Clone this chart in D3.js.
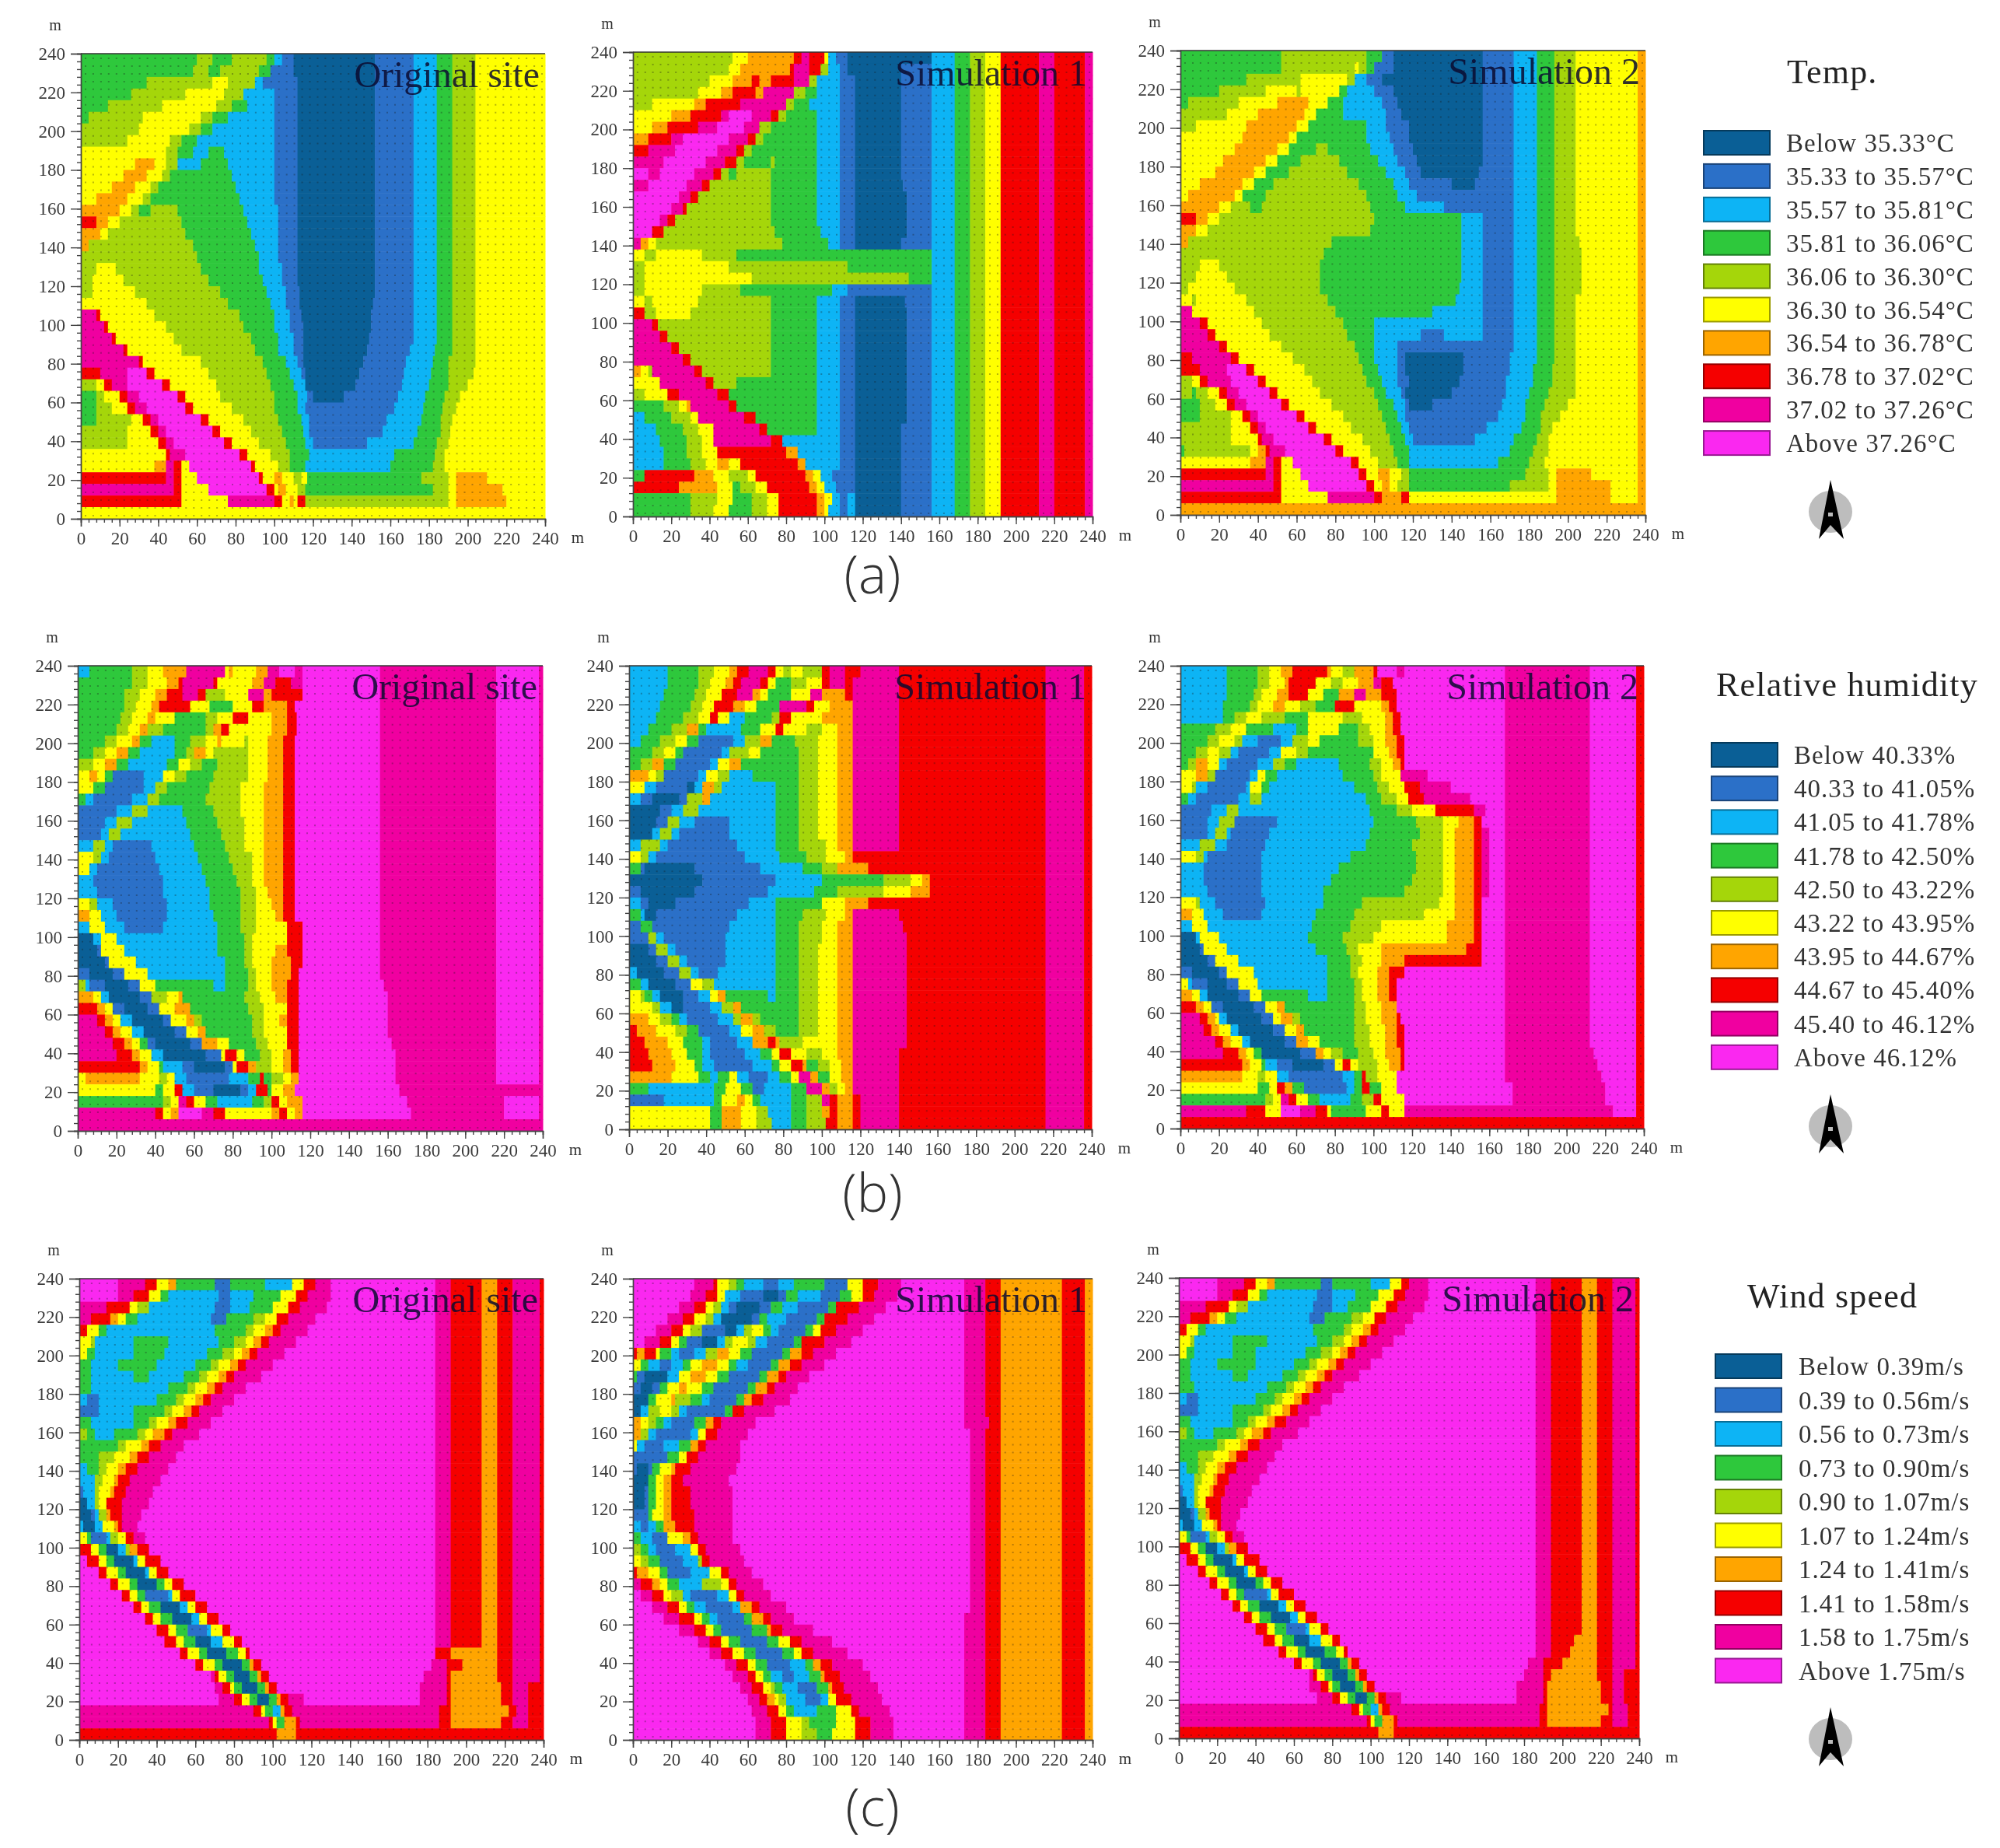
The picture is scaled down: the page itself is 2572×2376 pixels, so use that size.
<!DOCTYPE html>
<html>
<head>
<meta charset="utf-8">
<title>Temperature, humidity and wind simulation maps</title>
<script src="https://cdn.jsdelivr.net/npm/d3@7"></script>
<style>
  html, body { margin: 0; background: #fff; }
  svg { display: block; filter: blur(0.6px); }
</style>
</head>
<body>
<div id="chart"></div>
<script>
// class colours, dark blue (lowest) to magenta (highest)
const classColors = ["#0a5f96", "#2b70c8", "#0db4f5", "#2ec83c", "#a5d60a", "#ffff00", "#ffa500", "#f50000", "#f000a0", "#fa28f0"];

const tempLabels = ["Below 35.33°C", "35.33 to 35.57°C", "35.57 to 35.81°C", "35.81 to 36.06°C", "36.06 to 36.30°C", "36.30 to 36.54°C", "36.54 to 36.78°C", "36.78 to 37.02°C", "37.02 to 37.26°C", "Above 37.26°C"];
const humidLabels = ["Below 40.33%", "40.33 to 41.05%", "41.05 to 41.78%", "41.78 to 42.50%", "42.50 to 43.22%", "43.22 to 43.95%", "43.95 to 44.67%", "44.67 to 45.40%", "45.40 to 46.12%", "Above 46.12%"];
const windLabels = ["Below 0.39m/s", "0.39 to 0.56m/s", "0.56 to 0.73m/s", "0.73 to 0.90m/s", "0.90 to 1.07m/s", "1.07 to 1.24m/s", "1.24 to 1.41m/s", "1.41 to 1.58m/s", "1.58 to 1.75m/s", "Above 1.75m/s"];

const panelNames = ["Original site", "Simulation 1", "Simulation 2"];
const xyTicks = [0, 20, 40, 60, 80, 100, 120, 140, 160, 180, 200, 220, 240];

// each row is one 6 m strip, top of the map first, written as class:endOfRunInMetres
const tempOriginal = [
"3:60 4:68 3:78 4:96 3:100 2:104 1:110 0:152 1:172 2:184 3:192 4:204 5:240",
"3:58 4:66 3:72 4:92 3:98 1:110 0:152 1:172 2:184 3:192 4:204 5:240",
"3:34 4:68 5:76 4:90 2:94 1:112 0:152 1:172 2:184 3:192 4:204 5:240",
"3:26 4:54 5:74 4:84 2:100 1:112 0:152 1:172 2:184 3:192 4:204 5:240",
"3:14 4:42 5:70 4:78 3:86 2:100 1:112 0:152 1:172 2:184 3:192 4:204 5:240",
"3:4 4:32 5:62 4:68 3:76 2:100 1:112 0:152 1:172 2:184 3:192 4:204 5:240",
"4:30 5:56 4:62 3:68 2:100 1:112 0:152 1:172 2:184 3:192 4:204 5:240",
"4:24 5:46 4:52 3:60 2:100 1:112 0:152 1:172 2:184 3:192 4:204 5:240",
"5:44 4:50 3:58 2:66 3:74 2:100 1:112 0:152 1:172 2:184 3:192 4:204 5:240",
"5:28 6:38 5:44 4:50 2:62 3:76 2:100 1:112 0:152 1:172 2:184 3:192 4:204 5:240",
"5:22 6:34 5:42 4:46 3:78 2:100 1:112 0:152 1:172 2:184 3:192 4:204 5:240",
"5:16 6:28 5:36 4:40 3:80 2:100 1:112 0:152 1:172 2:184 3:192 4:204 5:240",
"5:8 6:24 5:32 4:36 3:82 2:100 1:112 0:152 1:172 2:184 3:192 4:204 5:240",
"6:20 5:26 4:30 3:36 4:50 3:84 2:102 1:112 0:152 1:172 2:184 3:192 4:204 5:240",
"7:8 6:14 5:20 4:52 3:86 2:102 1:112 0:152 1:172 2:184 3:192 4:204 5:240",
"6:10 5:14 4:54 3:88 2:102 1:112 0:152 1:172 2:184 3:192 4:204 5:240",
"6:4 4:58 3:90 2:102 1:112 0:152 1:172 2:184 3:192 4:204 5:240",
"4:60 3:92 2:102 1:112 0:152 1:172 2:184 3:192 4:204 5:240",
"4:8 5:18 4:62 3:92 2:104 1:112 0:152 1:172 2:184 3:192 4:204 5:240",
"4:6 5:22 4:66 3:94 2:104 1:112 0:152 1:172 2:184 3:192 4:204 5:240",
"4:6 5:28 4:72 3:96 2:106 1:113 0:152 1:172 2:184 3:192 4:204 5:240",
"5:34 4:76 3:98 2:106 1:113 0:151 1:172 2:184 3:192 4:204 5:240",
"8:8 7:10 5:38 4:82 3:100 2:108 1:114 0:150 1:172 2:184 3:192 4:204 5:240",
"8:12 7:14 5:44 4:84 3:100 2:108 1:115 0:150 1:172 2:184 3:192 4:204 5:240",
"8:16 7:18 5:48 4:88 3:102 2:110 1:115 0:149 1:172 2:184 3:192 4:204 5:240",
"8:22 7:24 5:52 4:90 3:102 2:110 1:115 0:148 1:170 2:183 3:192 4:204 5:240",
"8:30 7:32 5:62 4:94 3:106 2:112 1:115 0:146 1:168 2:182 3:190 4:204 5:240",
"7:10 8:24 9:34 7:38 5:66 4:96 3:108 2:114 1:116 0:144 1:167 2:181 3:190 4:203 5:240",
"4:8 5:12 7:16 8:24 9:42 7:46 5:70 4:98 3:110 2:116 0:142 1:166 2:180 3:190 4:200 5:240",
"3:8 4:12 5:20 7:24 8:30 9:50 7:54 5:72 4:100 3:112 2:117 1:120 0:136 1:164 2:178 3:188 4:196 5:240",
"3:8 4:16 5:24 7:28 8:34 9:54 7:58 5:78 4:100 3:112 2:116 1:162 2:177 3:187 4:194 5:240",
"3:8 4:26 5:32 7:36 8:40 9:62 7:66 5:84 4:102 3:114 2:118 1:158 2:176 3:186 4:192 5:240",
"4:24 5:36 7:40 8:44 9:68 7:72 5:88 4:104 3:115 2:118 1:156 2:174 3:186 4:191 5:240",
"4:24 5:40 7:44 8:48 9:74 7:78 5:92 4:106 3:116 2:120 1:148 2:172 3:184 4:190 5:240",
"5:44 7:46 8:54 9:82 7:86 5:98 4:108 3:118 2:162 3:183 4:188 5:240",
"5:38 6:44 8:48 7:52 5:56 9:88 7:90 5:102 4:108 3:116 2:160 3:182 4:188 5:240",
"7:44 8:48 7:52 5:60 9:92 7:94 5:100 6:104 5:110 4:114 5:117 3:176 4:190 5:194 6:210 5:240",
"8:48 7:52 5:66 9:96 7:100 5:102 6:106 5:112 4:116 3:182 4:190 5:194 6:218 5:240",
"7:52 5:76 8:100 7:104 5:108 6:110 5:112 7:116 4:190 5:194 6:220 5:240",
"5:240"
];

const tempSim1 = [
"4:52 5:60 6:84 7:88 8:92 7:100 5:102 2:106 1:112 0:156 2:168 3:176 4:184 5:192 7:212 8:220 7:236 8:240",
"4:50 5:56 6:82 7:84 8:92 7:98 4:102 2:108 1:112 0:140 1:156 2:168 3:176 4:184 5:192 7:212 8:220 7:236 8:240",
"4:40 5:52 6:62 7:66 6:72 7:84 8:92 4:96 2:108 1:116 0:140 1:156 2:168 3:176 4:184 5:192 7:212 8:220 7:236 8:240",
"4:34 5:46 6:52 7:64 6:68 8:84 4:90 3:96 2:108 1:116 0:140 1:156 2:168 3:176 4:184 5:192 7:212 8:220 7:236 8:240",
"4:10 5:32 6:38 7:56 8:80 4:84 3:92 2:108 1:116 0:140 1:156 2:168 3:176 4:184 5:192 7:212 8:220 7:236 8:240",
"5:20 6:30 7:46 8:50 9:62 8:72 7:76 4:80 3:96 2:108 1:116 0:140 1:156 2:168 3:176 4:184 5:192 7:212 8:220 7:236 8:240",
"5:10 6:18 7:34 8:44 9:58 8:66 4:72 3:96 2:108 1:116 0:140 1:156 2:168 3:176 4:184 5:192 7:212 8:220 7:236 8:240",
"6:8 7:20 8:26 9:50 8:60 7:64 4:68 3:96 2:108 1:116 0:140 1:156 2:168 3:176 4:184 5:192 7:212 8:220 7:236 8:240",
"7:8 8:22 9:44 8:54 7:58 4:62 3:96 2:108 1:116 0:140 1:156 2:168 3:176 4:184 5:192 7:212 8:220 7:236 8:240",
"8:16 9:38 8:48 7:54 4:58 3:72 4:74 3:96 2:108 1:116 0:140 1:156 2:168 3:176 4:184 5:192 7:212 8:220 7:236 8:240",
"9:8 8:14 9:32 8:42 7:46 4:50 3:54 4:72 3:96 2:108 1:116 0:140 1:156 2:168 3:176 4:184 5:192 7:212 8:220 7:236 8:240",
"8:8 9:28 8:36 7:40 4:72 3:96 2:108 1:116 0:141 1:156 2:168 3:176 4:184 5:192 7:212 8:220 7:236 8:240",
"9:24 8:30 7:34 4:72 3:96 2:108 1:116 0:143 1:156 2:168 3:176 4:184 5:192 7:212 8:220 7:236 8:240",
"9:20 8:26 7:28 4:72 3:96 2:108 1:116 0:143 1:156 2:168 3:176 4:184 5:192 7:212 8:220 7:236 8:240",
"9:14 8:18 7:22 4:72 3:96 2:108 1:116 0:143 1:156 2:168 3:176 4:184 5:192 7:212 8:220 7:236 8:240",
"9:10 7:16 4:74 3:98 2:108 1:116 0:143 1:156 2:168 3:176 4:184 5:192 7:212 8:220 7:236 8:240",
"8:4 6:8 5:12 4:78 3:102 2:108 1:116 0:140 1:156 2:168 3:176 4:184 5:192 7:212 8:220 7:236 8:240",
"5:6 4:12 5:36 4:54 3:156 2:168 3:176 4:184 5:192 7:212 8:220 7:236 8:240",
"4:6 5:50 4:112 3:156 2:168 3:176 4:184 5:192 7:212 8:220 7:236 8:240",
"4:6 5:62 4:144 3:156 2:168 3:176 4:184 5:192 7:212 8:220 7:236 8:240",
"4:6 5:36 4:56 3:104 2:112 1:156 2:168 3:176 4:184 5:192 7:212 8:220 7:236 8:240",
"5:6 4:10 5:34 4:72 3:96 2:108 1:116 0:142 1:156 2:168 3:176 4:184 5:192 7:212 8:220 7:236 8:240",
"7:6 4:12 5:30 4:72 3:96 2:108 1:116 0:143 1:156 2:168 3:176 4:184 5:192 7:212 8:220 7:236 8:240",
"8:10 7:13 4:72 3:96 2:108 1:116 0:143 1:156 2:168 3:176 4:184 5:192 7:212 8:220 7:236 8:240",
"8:14 7:18 4:72 3:96 2:108 1:116 0:143 1:156 2:168 3:176 4:184 5:192 7:212 8:220 7:236 8:240",
"8:20 7:24 4:72 3:96 2:108 1:116 0:143 1:156 2:168 3:176 4:184 5:192 7:212 8:220 7:236 8:240",
"8:26 7:30 4:72 3:96 2:108 1:116 0:143 1:156 2:168 3:176 4:184 5:192 7:212 8:220 7:236 8:240",
"6:4 5:8 4:10 8:32 7:36 4:72 3:96 2:108 1:116 0:143 1:156 2:168 3:176 4:184 5:192 7:212 8:220 7:236 8:240",
"5:14 8:38 7:42 4:54 3:96 2:108 1:116 0:143 1:156 2:168 3:176 4:184 5:192 7:212 8:220 7:236 8:240",
"4:6 5:18 7:24 8:44 7:50 3:96 2:108 1:116 0:143 1:156 2:168 3:176 4:184 5:192 7:212 8:220 7:236 8:240",
"3:16 4:24 5:28 6:30 8:50 7:54 3:96 2:108 1:116 0:143 1:156 2:168 3:176 4:184 5:192 7:212 8:220 7:236 8:240",
"2:6 3:20 4:30 5:34 8:58 7:64 3:96 2:108 1:116 0:143 1:156 2:168 3:176 4:184 5:192 7:212 8:220 7:236 8:240",
"2:12 3:26 4:34 5:42 8:66 7:70 3:96 2:108 1:116 0:140 1:156 2:168 3:176 4:184 5:192 7:212 8:220 7:236 8:240",
"2:14 3:28 4:36 5:42 8:72 7:78 2:108 1:116 0:140 1:156 2:168 3:176 4:184 5:192 7:212 8:220 7:236 8:240",
"2:16 3:28 4:36 5:44 7:80 6:86 2:108 1:116 0:140 1:156 2:168 3:176 4:184 5:192 7:212 8:220 7:236 8:240",
"2:16 3:30 4:38 5:44 6:50 5:56 7:86 6:90 2:108 1:116 0:140 1:156 2:168 3:176 4:184 5:192 7:212 8:220 7:236 8:240",
"3:6 7:32 6:42 5:50 4:60 5:64 7:90 6:94 5:98 2:104 1:116 0:140 1:156 2:168 3:176 4:184 5:192 7:212 8:220 7:236 8:240",
"7:24 6:44 5:52 3:56 4:64 5:70 7:92 6:96 5:100 2:106 1:116 0:140 1:156 2:168 3:176 4:184 5:192 7:212 8:220 7:236 8:240",
"3:30 4:44 5:52 3:62 4:70 5:76 7:96 6:100 5:104 2:108 1:112 2:116 0:140 1:156 2:168 3:176 4:184 5:192 7:212 8:220 7:236 8:240",
"3:30 4:42 5:50 3:62 4:70 5:76 7:96 6:100 5:102 2:108 1:112 2:116 0:140 1:156 2:168 3:176 4:184 5:192 7:212 8:220 7:236 8:240"
];

const tempSim2 = [
"3:52 4:96 3:104 1:110 0:156 1:172 2:184 3:193 4:204 5:236 6:240",
"3:52 4:90 5:92 4:96 3:100 1:110 0:156 1:172 2:184 3:193 4:204 5:236 6:240",
"3:34 4:62 5:86 4:90 2:96 1:104 0:156 1:172 2:184 3:193 4:204 5:236 6:240",
"3:20 4:44 5:60 4:62 5:82 3:86 2:100 1:110 0:156 1:172 2:184 3:193 4:204 5:236 6:240",
"3:4 4:30 5:50 6:66 5:76 3:84 2:104 1:112 0:156 1:172 2:184 3:193 4:204 5:236 6:240",
"4:24 5:40 6:64 5:70 3:84 2:106 1:114 0:156 1:172 2:184 3:193 4:204 5:236 6:240",
"4:8 5:34 6:60 5:66 3:96 2:106 1:118 0:156 1:172 2:184 3:193 4:204 5:236 6:240",
"5:32 6:56 5:60 3:96 2:108 1:118 0:156 1:172 2:184 3:193 4:204 5:236 6:240",
"5:28 6:50 5:56 3:70 4:76 3:98 2:110 1:120 0:156 1:172 2:184 3:193 4:204 5:236 6:240",
"5:22 6:44 5:50 3:62 4:82 3:102 2:112 1:122 0:156 1:172 2:184 3:193 4:204 5:236 6:240",
"5:18 6:38 5:44 3:56 4:86 3:106 2:116 1:124 0:154 1:172 2:184 3:193 4:204 5:236 6:240",
"5:10 6:32 5:38 3:48 4:92 3:110 2:118 1:140 0:152 1:172 2:184 3:193 4:204 5:236 6:240",
"5:4 6:28 5:32 3:44 4:96 3:112 2:122 1:172 2:184 3:193 4:204 5:236 6:240",
"6:20 5:26 4:36 3:42 4:98 3:116 2:136 1:172 2:184 3:193 4:204 5:236 6:240",
"7:8 6:14 5:20 4:100 3:145 2:156 1:172 2:184 3:193 4:204 5:236 6:240",
"6:8 5:14 4:98 3:145 2:156 1:172 2:184 3:193 4:204 5:236 6:240",
"6:4 4:78 3:145 2:156 1:172 2:184 3:193 4:206 5:236 6:240",
"4:74 3:145 2:156 1:172 2:184 3:193 4:207 5:236 6:240",
"4:10 5:20 4:72 3:145 2:156 1:172 2:184 3:193 4:207 5:236 6:240",
"4:8 5:24 4:72 3:145 2:156 1:172 2:184 3:193 4:207 5:236 6:240",
"4:4 5:28 4:72 3:144 2:156 1:172 2:184 3:193 4:207 5:236 6:240",
"5:6 4:8 5:34 4:76 3:142 2:156 1:172 2:184 3:193 4:204 5:236 6:240",
"8:6 5:38 4:80 3:130 2:156 1:172 2:184 3:193 4:204 5:236 6:240",
"8:10 7:14 5:42 4:84 3:100 2:156 1:172 2:184 3:193 4:204 5:236 6:240",
"8:14 7:18 5:46 4:86 3:100 2:124 1:136 2:156 1:172 2:184 3:193 4:204 5:236 6:240",
"8:20 7:24 5:52 4:90 3:100 2:112 1:172 2:184 3:193 4:204 5:236 6:240",
"7:6 8:26 7:30 5:58 4:92 3:100 2:112 1:116 0:146 1:170 2:184 3:193 4:204 5:236 6:240",
"7:10 8:24 9:34 7:38 5:64 4:94 3:102 2:112 1:116 0:146 1:170 2:182 3:192 4:204 5:236 6:240",
"4:6 5:10 7:14 8:26 9:40 7:44 5:68 4:96 3:104 2:112 1:118 0:144 1:168 2:182 3:192 4:204 5:236 6:240",
"4:6 3:8 4:14 5:20 7:24 8:30 9:46 7:50 5:72 4:100 3:106 2:114 1:116 0:140 1:168 2:180 3:190 4:204 5:236 6:240",
"3:10 4:18 5:24 7:28 8:34 9:52 7:56 5:78 4:102 3:110 2:116 1:118 0:130 1:166 2:178 3:188 4:200 5:236 6:240",
"3:10 4:26 5:32 7:36 8:40 9:60 7:64 5:84 4:104 3:112 2:116 1:164 2:178 3:186 4:196 5:236 6:240",
"4:26 5:36 7:40 8:44 9:66 7:70 5:88 4:106 3:114 2:118 1:158 2:176 3:186 4:192 5:236 6:240",
"4:26 5:40 7:42 8:48 9:74 7:78 5:94 4:108 3:116 2:120 1:152 2:172 3:184 4:190 5:236 6:240",
"3:2 4:36 5:40 6:44 7:46 8:54 9:80 7:84 5:98 4:110 3:118 2:170 3:182 4:190 5:236 6:240",
"5:36 6:44 8:48 7:52 5:58 9:88 7:92 5:102 4:112 3:118 2:164 3:180 4:188 5:236 6:240",
"7:44 8:48 7:52 5:62 9:92 7:96 5:102 6:108 5:114 4:118 3:178 4:190 5:194 6:212 5:236 6:240",
"8:48 7:52 5:66 9:96 7:100 5:104 6:108 5:112 4:118 3:170 4:190 5:194 6:222 5:236 6:240",
"7:52 5:76 8:100 7:104 6:114 7:118 5:194 6:222 5:236 6:240",
"6:240"
];

const humidOriginal = [
"2:6 3:28 4:36 5:44 6:56 8:76 5:78 6:80 5:92 6:98 8:104 9:112 8:116 9:156 8:216 9:238 8:240",
"3:28 4:36 5:46 6:52 7:54 8:70 7:72 5:90 6:96 8:102 7:110 8:116 9:156 8:216 9:238 8:240",
"3:24 4:32 5:40 6:46 7:54 8:62 7:66 4:76 5:88 8:96 6:100 7:116 9:156 8:216 9:238 8:240",
"3:24 4:30 5:38 6:42 7:58 5:68 3:80 5:90 7:96 6:108 7:112 9:156 8:216 9:238 8:240",
"3:22 4:28 5:36 6:40 5:50 3:66 4:72 5:80 7:88 5:100 6:108 7:113 9:156 8:216 9:238 8:240",
"3:20 4:26 5:32 6:36 4:44 3:66 4:70 6:74 7:78 5:100 6:108 7:113 9:156 8:216 9:238 8:240",
"3:14 4:20 5:28 6:32 3:38 2:50 3:58 4:66 5:72 6:74 5:86 4:88 5:98 6:106 7:112 9:156 8:216 9:238 8:240",
"3:8 4:14 5:20 6:26 3:32 2:50 3:56 4:60 6:66 5:70 4:88 5:98 6:106 7:112 9:156 8:216 9:238 8:240",
"4:8 5:14 6:20 3:26 2:46 3:52 5:58 4:64 3:72 4:88 5:98 6:106 7:112 9:156 8:216 9:238 8:240",
"5:6 6:10 5:14 3:18 1:34 2:44 5:50 4:56 3:70 4:88 5:98 6:106 7:112 9:156 8:216 9:238 8:240",
"5:8 3:14 1:34 2:40 4:46 3:68 4:84 5:96 6:106 7:112 9:156 8:216 9:238 8:240",
"3:4 2:8 1:28 2:36 4:42 3:66 4:84 5:96 6:106 7:112 9:156 8:216 9:238 8:240",
"1:20 2:28 4:36 2:54 3:70 4:84 5:96 6:106 7:112 9:156 8:216 9:238 8:240",
"1:14 2:20 4:28 2:56 3:72 4:86 5:96 6:106 7:112 9:156 8:216 9:238 8:240",
"1:12 2:16 4:22 2:58 3:74 4:86 5:96 6:106 7:112 9:156 8:216 9:238 8:240",
"2:8 4:14 2:18 1:38 2:60 3:76 4:86 5:96 6:106 7:112 9:156 8:216 9:238 8:240",
"5:8 4:12 2:16 1:40 2:62 3:78 4:90 5:96 6:106 7:112 9:156 8:216 9:238 8:240",
"5:6 2:10 1:42 2:64 3:80 4:90 5:96 6:106 7:112 9:156 8:216 9:238 8:240",
"2:8 1:44 2:66 3:82 4:90 5:96 6:106 7:112 9:156 8:216 9:238 8:240",
"2:10 1:44 2:68 3:84 4:92 5:98 6:106 7:112 9:156 8:216 9:238 8:240",
"5:6 4:10 2:18 1:46 2:68 3:84 4:92 5:100 6:106 7:112 9:156 8:216 9:238 8:240",
"6:6 5:12 2:20 1:46 2:70 3:84 4:92 5:102 6:106 7:112 9:156 8:216 9:238 8:240",
"2:6 5:14 2:24 1:44 2:72 3:84 4:92 5:108 7:116 9:156 8:216 9:238 8:240",
"0:8 2:12 5:20 2:72 3:86 4:90 5:108 7:116 9:156 8:216 9:238 8:240",
"0:10 1:12 5:24 2:72 3:86 4:90 5:102 6:108 7:116 9:156 8:216 9:238 8:240",
"0:14 1:16 5:30 2:76 3:86 4:90 5:100 6:110 7:116 9:156 8:216 9:238 8:240",
"1:6 0:18 1:24 5:36 2:76 3:88 4:92 5:100 6:110 7:114 9:156 8:216 9:238 8:240",
"4:4 2:6 1:14 0:26 1:32 5:40 3:70 2:76 3:88 4:92 5:100 6:108 7:114 9:158 8:216 9:238 8:240",
"6:8 5:12 2:16 0:32 1:38 4:46 5:52 6:54 3:86 4:94 5:102 6:108 7:114 9:160 8:216 9:238 8:240",
"7:10 6:14 5:18 1:24 0:36 1:42 5:50 6:58 3:88 4:96 5:108 7:114 9:160 8:216 9:238 8:240",
"8:10 7:14 6:18 5:22 2:28 0:44 1:48 5:56 6:60 4:64 3:90 4:96 5:104 6:108 7:114 9:160 8:216 9:238 8:240",
"8:14 7:18 6:22 5:28 2:34 0:50 1:56 5:62 6:66 3:90 4:96 5:108 7:114 9:160 8:216 9:238 8:240",
"8:18 7:24 6:28 5:32 3:36 1:40 0:58 1:64 6:72 5:78 3:92 4:98 5:108 7:114 9:162 8:216 9:238 8:240",
"8:20 7:28 6:32 5:38 2:44 0:66 1:74 5:76 7:82 5:86 3:94 4:100 5:106 6:110 7:114 9:164 8:216 9:238 8:240",
"7:32 6:36 5:42 3:44 2:54 1:60 0:76 1:80 5:82 7:88 6:92 4:100 5:106 6:110 7:114 9:164 8:216 9:238 8:240",
"5:4 6:32 5:42 4:46 5:50 2:56 1:78 2:88 3:94 7:96 3:100 4:106 5:110 6:114 9:164 8:216 9:238 8:240",
"5:40 3:44 5:50 7:54 2:60 1:70 0:84 1:88 2:92 7:98 3:100 5:106 6:112 9:166 8:240",
"3:44 4:48 5:52 8:56 7:60 5:66 3:72 2:90 3:96 4:100 7:104 5:108 6:116 9:170 8:220 9:238 8:240",
"8:40 7:44 5:48 6:52 9:64 8:70 7:76 5:100 6:104 7:108 5:112 6:116 9:172 8:220 9:238 8:240",
"8:240"
];

const humidSim1 = [
"2:20 3:36 4:44 5:52 6:56 7:62 8:72 7:76 5:80 4:84 5:90 4:100 7:104 8:112 7:120 8:140 7:216 8:236 7:240",
"2:20 3:36 4:42 5:50 6:54 7:58 8:68 7:72 5:76 3:84 4:92 5:100 7:104 8:112 7:116 8:140 7:216 8:236 7:240",
"2:18 3:34 4:40 5:48 7:56 8:64 6:68 5:72 3:84 5:94 8:100 6:112 7:116 8:140 7:216 8:236 7:240",
"2:16 3:32 4:38 5:44 7:54 6:60 5:66 3:78 8:92 7:96 5:104 6:116 8:140 7:216 8:236 7:240",
"2:14 3:28 4:36 5:42 7:46 5:52 2:60 3:74 4:78 7:84 5:100 6:116 8:140 7:216 8:236 7:240",
"2:10 3:22 4:30 6:36 3:40 2:58 3:68 5:76 7:80 5:92 4:100 5:108 6:116 8:140 7:216 8:236 7:240",
"2:6 3:16 4:24 5:30 3:36 1:54 2:60 4:68 6:74 3:86 4:98 5:108 6:116 8:140 7:216 8:236 7:240",
"3:12 4:18 5:24 3:28 1:48 2:52 4:62 5:68 3:88 4:98 5:108 6:116 8:140 7:216 8:236 7:240",
"3:6 4:12 6:18 3:24 1:42 2:46 5:52 6:58 3:88 4:98 5:108 6:116 8:140 7:216 8:236 7:240",
"6:10 5:14 4:18 1:36 2:40 5:46 4:52 2:64 3:88 4:98 5:108 6:116 8:140 7:216 8:236 7:240",
"5:8 2:14 1:30 0:34 2:38 6:44 4:48 2:76 3:88 4:98 5:108 6:116 8:140 7:216 8:236 7:240",
"2:6 1:12 0:26 1:30 4:38 6:42 2:76 3:88 4:98 5:108 6:116 8:140 7:216 8:236 7:240",
"0:16 1:22 2:28 4:36 2:76 3:88 4:98 5:108 6:116 8:140 7:216 8:236 7:240",
"0:14 1:20 4:26 2:34 1:52 2:76 3:88 4:98 5:108 6:116 8:140 7:216 8:236 7:240",
"0:12 2:16 4:22 2:26 1:52 2:76 3:88 4:98 5:108 6:116 8:140 7:216 8:236 7:240",
"2:6 4:16 2:20 1:56 2:76 3:88 4:102 5:108 6:116 8:140 7:216 8:236 7:240",
"5:6 4:10 2:14 1:60 2:78 3:92 4:102 5:112 6:116 7:216 8:236 7:240",
"3:6 1:8 0:34 1:68 2:90 3:100 4:108 6:124 7:216 8:236 7:240",
"0:38 1:76 2:100 3:132 4:146 5:152 6:156 7:216 8:236 7:240",
"1:6 0:34 1:72 2:96 3:108 4:132 5:146 6:156 7:216 8:236 7:240",
"2:6 1:10 0:24 1:62 2:76 3:100 5:112 6:124 7:216 8:236 7:240",
"3:6 2:8 0:14 1:56 2:76 3:90 4:102 5:112 6:116 8:140 7:216 8:236 7:240",
"1:6 3:12 1:52 2:76 3:88 4:100 5:108 6:116 8:142 7:216 8:236 7:240",
"1:10 4:14 2:18 1:50 2:76 3:88 4:100 5:108 6:116 8:144 7:216 8:236 7:240",
"0:10 1:14 4:20 2:24 1:50 2:76 3:88 4:98 5:108 6:116 8:144 7:216 8:236 7:240",
"0:14 1:20 4:26 2:30 1:50 2:76 3:88 4:98 5:108 6:116 8:144 7:216 8:236 7:240",
"2:4 0:18 1:26 4:32 2:36 1:46 2:76 3:88 4:98 5:108 6:116 8:144 7:216 8:236 7:240",
"3:6 2:10 0:24 1:32 5:38 4:44 2:76 3:88 4:98 5:108 6:116 8:144 7:216 8:236 7:240",
"5:6 4:8 3:12 2:16 0:28 1:36 2:42 5:46 6:50 3:72 2:76 3:88 4:98 5:108 6:116 8:144 7:216 8:236 7:240",
"5:12 4:16 2:22 0:28 1:42 2:48 4:54 6:58 3:88 4:98 5:108 6:116 8:144 7:216 8:236 7:240",
"6:10 5:16 4:22 3:26 2:30 1:46 2:54 4:58 6:64 4:68 3:88 4:98 5:108 6:116 8:144 7:216 8:236 7:240",
"7:4 6:14 5:24 4:30 3:36 1:52 2:58 5:64 6:70 4:76 3:88 4:98 5:108 6:116 8:144 7:216 8:236 7:240",
"7:8 6:20 5:28 3:38 2:42 1:56 2:64 6:72 7:76 6:78 4:90 5:108 6:116 8:144 7:216 8:236 7:240",
"7:10 6:22 5:30 3:38 2:42 1:60 2:68 3:74 5:78 7:84 5:92 4:100 5:108 6:116 8:140 7:216 8:236 7:240",
"7:12 6:24 5:34 3:38 2:44 1:64 2:74 3:78 5:84 7:90 6:92 3:98 4:104 5:110 6:116 8:140 7:216 8:236 7:240",
"6:22 5:36 3:42 2:46 3:52 5:56 2:62 1:72 2:78 3:84 5:88 8:94 6:98 3:104 5:110 6:116 8:140 7:216 8:236 7:240",
"3:10 2:44 3:50 5:58 3:64 1:70 2:84 3:92 8:100 6:104 4:108 5:112 6:116 8:140 7:216 8:236 7:240",
"1:18 2:44 3:48 5:56 6:60 5:64 3:68 2:84 3:92 4:100 8:104 7:108 6:116 7:120 8:140 7:216 8:236 7:240",
"5:42 3:48 6:58 5:66 4:72 2:84 3:92 4:100 6:104 7:108 6:116 7:120 8:140 7:216 8:236 7:240",
"5:42 3:48 6:58 5:66 4:74 2:84 3:92 4:102 7:108 6:116 7:120 8:140 7:216 8:236 7:240"
];

const humidSim2 = [
"2:24 3:40 4:46 5:52 6:58 7:76 6:78 5:84 4:90 6:100 7:102 9:112 8:116 9:168 8:212 9:236 7:240",
"2:24 3:40 4:46 5:54 6:56 7:70 5:78 4:84 5:92 6:100 8:104 7:110 9:168 8:212 9:236 7:240",
"2:24 3:38 4:42 5:50 6:56 7:66 5:74 3:82 6:90 8:96 6:104 7:112 9:168 8:212 9:236 7:240",
"2:22 3:36 4:40 5:48 6:54 5:62 4:70 3:80 7:90 5:104 6:108 7:112 9:168 8:212 9:236 7:240",
"2:22 3:28 4:34 5:42 4:54 3:66 5:84 4:94 5:106 6:110 7:114 9:168 8:212 9:236 7:240",
"3:18 4:26 5:34 3:48 2:60 3:66 5:82 3:92 4:98 5:106 6:110 7:114 9:168 8:212 9:236 7:240",
"3:14 4:20 5:28 4:32 2:40 1:52 2:58 4:66 5:72 3:92 4:100 5:106 6:112 7:116 9:168 8:212 9:236 7:240",
"3:8 4:14 5:20 4:26 2:30 1:46 2:52 5:60 4:66 3:100 5:108 6:112 7:116 9:168 8:212 9:236 7:240",
"3:4 4:8 6:14 5:20 2:24 1:40 2:48 4:54 3:60 2:82 3:98 4:104 5:110 6:114 7:116 9:168 8:212 9:236 7:240",
"5:8 6:14 4:18 1:36 2:40 5:44 3:50 2:84 3:100 4:104 5:114 8:128 9:168 8:212 9:236 7:240",
"5:6 4:8 2:14 1:34 2:36 5:42 3:46 2:90 3:102 4:108 5:116 7:124 8:140 9:168 8:212 9:236 7:240",
"3:4 2:8 1:30 2:36 4:42 2:96 3:104 4:112 5:118 7:126 8:150 9:168 8:212 9:236 7:240",
"1:16 2:24 4:30 2:98 3:112 4:120 5:132 7:152 8:158 9:168 8:212 9:236 7:240",
"1:14 2:20 4:28 1:50 2:100 3:122 4:136 5:144 6:152 7:156 9:168 8:212 9:236 7:240",
"1:14 2:18 4:24 2:26 1:46 2:98 3:124 4:136 5:142 6:152 7:156 8:160 9:168 8:212 9:236 7:240",
"2:10 4:18 2:24 1:44 2:96 3:120 4:136 5:142 6:152 7:156 8:160 9:168 8:212 9:236 7:240",
"5:8 4:12 2:14 1:42 2:88 3:122 4:136 5:142 6:152 7:156 8:160 9:168 8:212 9:236 7:240",
"2:12 1:42 2:82 3:122 4:136 5:142 6:152 7:156 8:160 9:168 8:212 9:236 7:240",
"2:12 1:42 2:78 3:120 4:136 5:142 6:152 7:156 8:160 9:168 8:212 9:236 7:240",
"2:14 1:42 2:74 3:116 4:136 5:142 6:152 7:156 8:160 9:168 8:212 9:236 7:240",
"5:8 4:10 2:18 1:44 2:74 3:94 4:134 5:142 6:152 7:156 9:168 8:212 9:236 7:240",
"6:6 5:12 2:22 1:42 2:70 3:90 4:126 5:142 6:152 7:156 9:168 8:212 9:236 7:240",
"2:6 5:14 2:68 3:88 4:104 5:138 6:152 7:156 9:168 8:212 9:236 7:240",
"0:8 2:10 5:20 2:66 3:84 4:100 5:138 6:152 7:156 9:168 8:212 9:236 7:240",
"0:10 1:12 5:24 2:70 3:86 4:92 5:104 6:148 7:156 9:168 8:212 9:236 7:240",
"0:14 1:18 5:30 2:76 3:88 4:94 5:104 6:116 7:156 9:168 8:212 9:236 7:240",
"1:6 0:20 1:24 5:38 2:76 3:88 4:92 5:102 6:108 7:116 9:168 8:212 9:236 7:240",
"5:4 2:6 1:14 0:24 1:30 5:40 2:76 3:90 4:94 5:102 6:108 7:112 9:168 8:212 9:236 7:240",
"6:6 5:10 2:14 0:30 1:36 5:42 3:66 2:76 3:90 4:94 5:102 6:108 7:112 9:168 8:212 9:236 7:240",
"7:8 6:12 5:16 1:22 0:38 1:44 5:50 6:54 3:90 4:96 5:104 6:112 9:168 8:212 9:236 7:240",
"8:10 7:14 6:18 5:20 2:24 0:42 1:48 5:52 6:58 4:62 3:90 4:96 5:104 6:112 7:114 9:168 8:212 9:236 7:240",
"8:12 7:16 6:20 5:26 2:30 0:48 1:54 5:60 6:64 3:90 4:98 5:106 6:112 7:116 9:168 8:212 9:236 7:240",
"8:18 7:22 6:26 5:32 2:36 0:54 1:60 6:66 5:72 3:90 4:98 5:106 6:112 7:116 9:168 8:212 9:236 7:240",
"8:22 7:30 6:34 5:38 3:42 0:62 1:70 6:74 5:78 4:84 3:92 4:100 5:106 6:114 7:116 9:168 8:214 9:236 7:240",
"7:32 6:36 5:42 3:44 2:50 1:58 0:74 1:80 5:84 7:88 5:92 4:102 5:108 6:114 7:116 9:168 8:216 9:236 7:240",
"6:32 5:40 4:44 5:50 2:56 1:84 2:90 3:94 7:96 4:102 5:112 9:168 8:218 9:236 7:240",
"5:40 3:46 5:50 7:54 6:58 3:64 1:86 2:90 3:94 7:98 3:104 5:112 9:172 8:220 9:236 7:240",
"3:44 4:48 5:52 8:56 7:60 5:66 3:72 2:88 3:94 4:100 7:104 5:116 9:172 8:220 9:236 7:240",
"8:34 7:44 5:52 9:62 8:70 7:76 5:78 3:96 5:104 7:108 5:116 8:224 9:236 7:240",
"7:240"
];

const windOriginal = [
"9:20 8:34 7:40 5:46 6:50 3:70 1:78 3:96 2:110 5:116 7:122 8:130 9:184 8:192 7:208 6:216 7:224 8:238 7:240",
"9:20 8:28 7:36 5:42 3:46 2:72 1:78 2:90 3:104 5:112 7:118 8:130 9:184 8:192 7:208 6:216 7:224 8:238 7:240",
"8:14 7:26 5:30 4:36 2:70 1:78 2:88 3:100 5:108 7:114 8:128 9:184 8:192 7:208 6:216 7:224 8:238 7:240",
"8:6 7:16 6:20 5:24 3:30 2:68 1:76 3:90 4:96 5:102 7:108 8:122 9:184 8:192 7:208 6:216 7:224 8:238 7:240",
"7:4 5:10 3:14 2:70 3:86 4:90 5:96 6:100 7:104 8:118 9:184 8:192 7:208 6:216 7:224 8:238 7:240",
"5:6 4:8 2:28 3:46 2:72 3:80 4:86 5:90 6:94 7:98 8:112 9:184 8:192 7:208 6:216 7:224 8:238 7:240",
"5:4 3:8 2:28 3:44 2:66 3:74 4:80 5:84 6:88 7:92 8:106 9:184 8:192 7:208 6:216 7:224 8:238 7:240",
"3:6 2:20 3:40 2:60 3:68 4:72 5:78 6:82 7:86 8:100 9:184 8:192 7:208 6:216 7:224 8:238 7:240",
"3:6 2:28 3:36 2:54 3:62 4:66 5:72 6:76 7:80 8:94 9:184 8:192 7:208 6:216 7:224 8:238 7:240",
"3:6 2:46 3:56 4:60 5:66 6:70 7:74 8:86 9:184 8:192 7:208 6:216 7:224 8:238 7:240",
"2:4 1:10 2:40 3:50 4:54 5:60 6:64 7:68 8:80 9:184 8:192 7:208 6:216 7:224 8:238 7:240",
"1:10 2:28 3:44 4:48 5:54 6:58 7:62 8:74 9:184 8:192 7:208 6:216 7:224 8:238 7:240",
"3:6 2:28 3:36 4:40 5:46 6:50 7:56 8:68 9:184 8:192 7:208 6:216 7:224 8:238 7:240",
"4:4 3:8 2:18 3:30 4:34 5:38 6:44 7:48 8:62 9:184 8:192 7:208 6:216 7:224 8:238 7:240",
"3:20 4:24 5:32 6:36 7:42 8:54 9:184 8:192 7:208 6:216 7:224 8:238 7:240",
"3:10 4:18 5:26 6:30 7:36 8:50 9:184 8:192 7:208 6:216 7:224 8:238 7:240",
"2:4 3:10 4:14 5:20 6:24 7:30 8:46 9:184 8:192 7:208 6:216 7:224 8:238 7:240",
"2:8 4:12 5:18 6:20 7:26 8:42 9:184 8:192 7:208 6:216 7:224 8:238 7:240",
"1:2 2:8 4:10 5:16 6:18 7:24 8:38 9:184 8:192 7:208 6:216 7:224 8:238 7:240",
"0:4 2:8 4:10 5:14 7:22 8:36 9:184 8:192 7:208 6:216 7:224 8:238 7:240",
"0:6 1:8 2:10 4:14 6:16 7:22 8:32 9:184 8:192 7:208 6:216 7:224 8:238 7:240",
"2:2 0:8 2:12 5:18 6:20 7:22 8:30 9:184 8:192 7:208 6:216 7:224 8:238 7:240",
"5:4 3:6 1:14 2:16 4:20 5:24 7:28 8:34 9:184 8:192 7:208 6:216 7:224 8:238 7:240",
"7:6 5:10 3:14 0:20 2:24 4:26 6:30 7:36 9:184 8:192 7:208 6:216 7:224 8:238 7:240",
"9:4 7:10 5:14 3:18 0:28 2:30 5:34 7:42 9:184 8:192 7:208 6:216 7:224 8:238 7:240",
"9:10 7:14 5:20 3:24 0:34 2:36 5:40 7:46 9:184 8:192 7:208 6:216 7:224 8:238 7:240",
"9:16 7:20 5:26 3:30 0:40 3:44 5:48 7:54 9:184 8:192 7:208 6:216 7:224 8:238 7:240",
"9:22 7:26 5:30 3:34 1:46 2:48 5:52 7:60 9:184 8:192 7:208 6:216 7:224 8:238 7:240",
"9:28 7:32 5:36 3:42 0:52 2:56 5:60 7:66 9:184 8:192 7:208 6:216 7:224 8:238 7:240",
"9:34 7:38 5:42 3:48 0:58 2:62 5:66 7:72 9:184 8:192 7:208 6:216 7:224 8:238 7:240",
"9:40 7:46 5:50 3:56 1:66 2:68 5:74 7:78 9:184 8:192 7:208 6:216 7:224 8:238 7:240",
"9:44 7:50 5:54 3:60 0:68 2:74 5:80 7:84 9:184 8:192 7:208 6:216 7:224 8:238 7:240",
"9:52 7:56 5:62 3:66 0:76 3:82 5:86 7:88 9:184 7:192 6:216 7:224 8:238 7:240",
"9:60 7:64 5:70 3:74 0:84 3:88 6:90 7:94 9:182 8:190 7:198 6:216 7:224 8:238 7:240",
"9:68 8:70 7:72 5:76 3:80 0:88 3:92 6:94 7:98 9:178 8:190 7:192 6:216 7:224 8:238 7:240",
"9:70 8:74 7:78 5:80 3:84 0:92 3:96 6:98 7:102 9:176 8:190 7:192 6:218 7:224 8:232 7:240",
"9:72 8:80 7:84 5:88 3:92 0:98 3:102 6:104 7:108 8:116 9:176 8:190 7:192 6:218 7:224 8:232 7:240",
"8:90 7:94 5:96 3:100 2:104 6:106 7:110 8:186 7:192 6:222 7:226 8:232 7:240",
"8:98 7:100 5:102 3:106 6:112 7:114 8:186 7:192 6:218 7:224 8:232 7:240",
"7:102 6:112 7:240"
];

const windSim1 = [
"9:32 8:42 7:44 5:50 4:54 3:58 2:68 1:76 2:84 3:100 1:112 5:120 7:128 8:140 9:173 8:184 7:192 6:224 7:236 6:240",
"9:30 8:38 7:44 5:48 2:56 1:68 0:76 1:80 3:86 2:98 1:108 3:114 5:120 7:126 8:138 9:173 8:184 7:192 6:224 7:236 6:240",
"9:24 8:32 7:38 5:42 4:46 2:50 1:54 0:66 1:72 3:78 2:86 1:102 3:106 7:118 8:132 9:173 8:184 7:192 6:224 7:236 6:240",
"9:18 8:26 7:32 5:38 4:42 2:46 0:62 1:66 3:70 2:80 1:96 3:100 7:112 8:126 9:173 8:184 7:192 6:224 7:236 6:240",
"9:12 8:20 7:26 5:30 4:36 1:48 0:54 2:58 4:62 5:68 3:72 2:76 1:90 3:94 5:98 7:106 8:120 9:173 8:184 7:192 6:224 7:236 6:240",
"9:6 8:14 7:20 5:24 3:28 1:36 0:44 2:48 4:52 5:60 4:64 2:70 1:84 3:88 7:100 8:114 9:173 8:184 7:192 6:224 7:236 6:240",
"7:2 6:6 7:12 5:14 3:20 2:24 1:32 2:38 4:44 6:50 5:56 3:62 1:78 3:82 6:88 7:94 8:106 9:173 8:184 7:192 6:224 7:236 6:240",
"5:4 3:8 2:14 1:20 2:26 3:30 5:36 6:44 5:50 3:54 2:60 1:72 3:76 6:82 7:88 8:100 9:173 8:184 7:192 6:224 7:236 6:240",
"3:2 1:6 0:18 2:24 5:30 6:38 5:44 3:50 1:66 3:70 6:76 7:80 8:92 9:173 8:184 7:192 6:224 7:236 6:240",
"1:4 0:10 1:14 3:18 5:24 6:28 5:36 3:42 1:60 3:64 6:70 7:74 8:86 9:173 8:184 7:192 6:224 7:236 6:240",
"0:8 3:12 5:20 6:22 4:30 3:36 2:40 1:54 3:58 6:62 7:68 8:82 9:173 8:184 7:192 6:224 7:236 6:240",
"0:4 2:8 4:14 5:20 4:24 2:28 1:48 3:52 7:58 8:74 9:173 8:184 7:192 6:224 7:236 6:240",
"6:4 5:8 4:12 3:16 2:20 1:32 3:38 6:42 7:46 8:64 9:173 8:186 7:192 6:224 7:236 6:240",
"6:4 4:8 2:12 1:30 2:34 5:38 7:44 8:60 9:176 8:184 7:192 6:224 7:236 6:240",
"5:2 2:6 1:16 2:24 3:30 6:34 7:38 8:56 9:176 8:184 7:192 6:224 7:236 6:240",
"1:18 3:24 5:28 7:34 8:56 9:176 8:184 7:192 6:224 7:236 6:240",
"1:2 0:8 1:10 3:14 5:20 6:22 7:30 8:54 9:176 8:184 7:192 6:224 7:236 6:240",
"0:8 3:12 5:16 6:20 7:26 8:50 9:176 8:184 7:192 6:224 7:236 6:240",
"0:6 1:8 3:12 5:16 6:20 7:30 8:52 9:176 8:184 7:192 6:224 7:236 6:240",
"0:6 1:8 3:12 5:16 6:20 7:30 8:52 9:176 8:184 7:192 6:224 7:236 6:240",
"1:8 3:10 5:16 6:20 7:32 8:52 9:176 8:184 7:192 6:224 7:236 6:240",
"2:4 1:8 2:12 3:16 6:22 7:32 8:52 9:176 8:184 7:192 6:224 7:236 6:240",
"3:4 2:10 1:18 5:26 6:30 7:34 8:52 9:176 8:184 7:192 6:224 7:236 6:240",
"4:4 3:8 2:12 1:22 2:30 5:34 7:38 8:56 9:176 8:184 7:192 6:224 7:236 6:240",
"5:4 4:8 3:14 1:26 2:34 4:36 7:40 8:58 9:176 8:184 7:192 6:224 7:236 6:240",
"7:2 6:8 5:14 3:18 1:30 2:40 5:46 7:50 8:62 9:176 8:184 7:192 6:224 7:236 6:240",
"8:4 7:10 6:14 5:18 3:24 2:36 4:46 5:50 7:54 8:68 9:176 8:184 7:192 6:224 7:236 6:240",
"9:4 8:10 7:16 5:20 4:26 2:30 1:44 2:50 5:54 7:58 8:72 9:176 8:184 7:192 6:224 7:236 6:240",
"9:10 8:18 7:24 5:28 3:32 2:38 1:52 2:56 6:62 7:66 8:80 9:176 8:184 7:192 6:224 7:236 6:240",
"9:16 8:24 7:32 5:36 3:40 2:44 1:58 3:62 6:68 7:72 8:84 9:173 8:184 7:192 6:224 7:236 6:240",
"9:24 8:32 7:38 5:42 3:46 1:62 3:70 6:72 7:78 8:94 9:173 8:184 7:192 6:224 7:236 6:240",
"9:34 8:40 7:46 5:50 3:56 1:70 3:76 5:82 7:88 8:104 9:173 8:184 7:192 6:224 7:236 6:240",
"9:40 8:46 7:52 5:58 3:64 1:78 3:84 5:88 7:94 8:112 9:173 8:184 7:192 6:224 7:236 6:240",
"9:48 8:54 7:60 5:64 3:70 1:82 2:90 3:94 6:98 7:104 8:120 9:173 8:184 7:192 6:224 7:236 6:240",
"9:52 8:60 7:64 5:68 3:72 2:78 1:84 2:92 3:98 6:100 7:108 8:124 9:173 8:184 7:192 6:224 7:236 6:240",
"9:56 8:62 7:68 5:72 4:74 3:78 2:86 1:96 3:102 6:104 7:110 8:128 9:173 8:184 7:192 6:224 7:236 6:240",
"9:60 8:66 7:70 6:74 5:76 4:80 2:90 1:98 2:102 5:106 7:114 8:130 9:173 8:184 7:192 6:224 7:236 6:240",
"9:62 8:70 7:76 5:80 3:84 2:96 3:106 5:114 7:118 8:134 9:173 8:184 7:192 6:224 7:236 6:240",
"9:64 8:72 7:80 5:88 4:92 3:106 5:116 7:124 8:136 9:173 8:184 7:192 6:224 7:236 6:240",
"9:64 8:72 7:80 5:88 4:96 3:104 5:116 7:124 8:136 9:173 8:184 7:192 6:224 7:236 6:240"
];

const windSim2 = [
"9:20 8:34 7:40 5:46 6:50 3:74 1:80 3:100 2:110 5:116 7:120 8:130 9:186 8:194 7:210 6:218 7:226 8:238 7:240",
"9:20 8:28 7:36 5:42 3:46 2:72 1:80 2:92 3:104 5:112 7:118 8:130 9:186 8:194 7:210 6:218 7:226 8:238 7:240",
"8:14 7:26 5:30 4:36 2:70 1:80 2:88 3:100 5:108 7:114 8:128 9:186 8:194 7:210 6:218 7:226 8:238 7:240",
"8:6 7:16 6:20 5:24 3:30 2:68 1:76 3:90 4:96 5:102 7:108 8:122 9:186 8:194 7:210 6:218 7:226 8:238 7:240",
"7:4 5:10 3:14 2:70 3:86 4:90 5:96 6:100 7:104 8:118 9:186 8:194 7:210 6:218 7:226 8:238 7:240",
"5:6 4:8 2:28 3:46 2:72 3:80 4:86 5:90 6:94 7:98 8:112 9:186 8:194 7:210 6:218 7:226 8:238 7:240",
"5:4 3:8 2:28 3:40 2:66 3:74 4:80 5:84 6:88 7:92 8:106 9:186 8:194 7:210 6:218 7:226 8:238 7:240",
"3:6 2:20 3:40 2:60 3:68 4:72 5:78 6:82 7:86 8:100 9:186 8:194 7:210 6:218 7:226 8:238 7:240",
"3:6 2:28 3:36 2:54 3:62 4:66 5:72 6:76 7:80 8:94 9:186 8:194 7:210 6:218 7:226 8:238 7:240",
"3:8 2:46 3:56 4:60 5:66 6:70 7:74 8:86 9:186 8:194 7:210 6:218 7:226 8:238 7:240",
"2:4 1:10 2:40 3:50 4:54 5:60 6:64 7:68 8:80 9:186 8:194 7:210 6:218 7:226 8:238 7:240",
"1:10 2:28 3:44 4:48 5:54 6:58 7:62 8:74 9:186 8:194 7:210 6:218 7:226 8:238 7:240",
"3:6 2:28 3:36 4:40 5:46 6:50 7:56 8:68 9:186 8:194 7:210 6:218 7:226 8:238 7:240",
"4:4 3:8 2:18 3:30 4:34 5:38 6:44 7:48 8:62 9:186 8:194 7:210 6:218 7:226 8:238 7:240",
"3:20 4:24 5:32 6:36 7:42 8:54 9:186 8:194 7:210 6:218 7:226 8:238 7:240",
"3:10 4:18 5:26 6:30 7:36 8:50 9:186 8:194 7:210 6:218 7:226 8:238 7:240",
"2:4 3:10 4:14 5:20 6:24 7:30 8:46 9:186 8:194 7:210 6:218 7:226 8:238 7:240",
"2:8 4:12 5:18 6:20 7:26 8:42 9:186 8:194 7:210 6:218 7:226 8:238 7:240",
"1:2 2:8 4:10 5:16 6:18 7:24 8:38 9:186 8:194 7:210 6:218 7:226 8:238 7:240",
"0:4 2:8 4:10 5:14 7:22 8:36 9:186 8:194 7:210 6:218 7:226 8:238 7:240",
"0:6 1:8 2:10 4:14 6:16 7:22 8:32 9:186 8:194 7:210 6:218 7:226 8:238 7:240",
"2:2 0:8 2:12 5:18 6:20 7:22 8:30 9:186 8:194 7:210 6:218 7:226 8:238 7:240",
"5:4 3:6 1:14 2:16 4:20 5:24 7:28 8:34 9:186 8:194 7:210 6:218 7:226 8:238 7:240",
"7:6 5:10 3:14 0:20 2:24 4:26 6:30 7:36 9:186 8:194 7:210 6:218 7:226 8:238 7:240",
"9:4 7:10 5:14 3:18 0:28 2:30 5:34 7:42 9:186 8:194 7:210 6:218 7:226 8:238 7:240",
"9:10 7:14 5:20 3:24 0:34 2:36 5:40 7:46 9:186 8:194 7:210 6:218 7:226 8:238 7:240",
"9:16 7:20 5:26 3:30 0:40 3:44 5:48 7:54 9:186 8:194 7:210 6:218 7:226 8:238 7:240",
"9:22 7:26 5:30 3:34 1:46 2:48 5:52 7:60 9:186 8:194 7:210 6:218 7:226 8:238 7:240",
"9:28 7:32 5:36 3:42 0:52 2:56 5:60 7:66 9:186 8:194 7:210 6:218 7:226 8:238 7:240",
"9:34 7:38 5:42 3:48 0:58 2:62 5:66 7:72 9:186 8:194 7:210 6:218 7:226 8:238 7:240",
"9:40 7:46 5:50 3:56 1:66 2:68 5:74 7:78 9:186 8:194 7:210 6:218 7:226 8:238 7:240",
"9:44 7:50 5:54 3:60 0:68 2:74 5:80 7:84 9:186 8:194 7:206 6:218 7:226 8:238 7:240",
"9:52 7:56 5:62 3:66 0:76 3:82 5:86 7:88 9:186 8:194 7:204 6:218 7:226 8:238 7:240",
"9:60 7:64 5:70 3:74 0:84 3:88 6:90 7:94 9:182 8:190 7:200 6:218 7:226 8:238 7:240",
"9:68 8:70 7:72 5:76 3:80 0:88 3:92 6:94 7:98 9:180 8:190 7:194 6:218 7:226 8:232 7:240",
"9:68 8:74 7:78 5:80 3:84 0:92 3:96 6:98 7:102 9:176 8:190 7:192 6:220 7:226 8:232 7:240",
"9:72 8:80 7:84 5:88 3:92 0:98 3:102 6:104 7:108 8:116 9:176 8:190 7:192 6:220 7:226 8:232 7:240",
"8:90 7:94 5:96 3:100 2:104 6:106 7:110 8:188 7:192 6:224 7:226 8:234 7:240",
"8:98 7:100 5:102 3:106 6:112 7:114 8:188 7:192 6:220 7:226 8:234 7:240",
"7:104 6:112 7:240"
];

const width = 2572;
const height = 2376;

// one block per row of the figure, panel frames in page pixels
const blocks = [
  { tag: "(a)", tagY: 763, title: "Temp.", titleX: 2298, titleY: 107, titleSize: 44, swatchX: 2190, labelX: 2297, legendY: 167, step: 42.9, northY: 658, labels: tempLabels,
    panels: [{ rows: tempOriginal, box: [104, 701, 69, 667] }, { rows: tempSim1, box: [814, 1405, 67, 664] }, { rows: tempSim2, box: [1518, 2116, 65, 662] }] },
  { tag: "(b)", tagY: 1558, title: "Relative humidity", titleX: 2207, titleY: 895, titleSize: 44, swatchX: 2200, labelX: 2307, legendY: 954, step: 43.2, northY: 1448, labels: humidLabels,
    panels: [{ rows: humidOriginal, box: [100, 698, 856, 1454] }, { rows: humidSim1, box: [809, 1404, 856, 1452] }, { rows: humidSim2, box: [1518, 2114, 856, 1451] }] },
  { tag: "(c)", tagY: 2348, title: "Wind speed", titleX: 2247, titleY: 1681, titleSize: 44, swatchX: 2205, labelX: 2313, legendY: 1740, step: 43.5, northY: 2236, labels: windLabels,
    panels: [{ rows: windOriginal, box: [102, 699, 1644, 2237] }, { rows: windSim1, box: [814, 1405, 1644, 2237] }, { rows: windSim2, box: [1516, 2108, 1643, 2235] }] }
];

const serif = "'Liberation Serif', 'Times New Roman', serif";

const svg = d3.select("#chart").append("svg")
  .attr("width", width)
  .attr("height", height)
  .attr("role", "img")
  .attr("aria-label", "Maps of temperature, relative humidity and wind speed for the original site and two simulations");

function parseRow(row) {
  return row.split(" ").map((run) => run.split(":").map(Number));
}

function drawPanel(panel, name) {
  const [left, right, top, bottom] = panel.box;
  const x = d3.scaleLinear().domain([0, 240]).range([left, right]);
  const y = d3.scaleLinear().domain([0, 240]).range([bottom, top]);
  const rowHeight = 240 / panel.rows.length;

  const cells = [];
  panel.rows.forEach((row, i) => {
    let start = 0;
    parseRow(row).forEach(([cls, end]) => {
      if (end > start) cells.push({ cls, x0: start, x1: end, y1: 240 - i * rowHeight, y0: 240 - (i + 1) * rowHeight });
      start = Math.max(start, end);
    });
  });

  const g = svg.append("g");

  g.append("g").selectAll("rect")
    .data(cells)
    .join("rect")
    .attr("x", (d) => x(d.x0))
    .attr("y", (d) => y(d.y1))
    .attr("width", (d) => x(d.x1) - x(d.x0) + 0.5)
    .attr("height", (d) => y(d.y0) - y(d.y1) + 0.5)
    .attr("fill", (d) => classColors[d.cls]);

  // the small dark marks the model prints in every 4 m grid cell
  const gridCentres = d3.range(2, 240, 4);
  let dots = "";
  for (const gx of gridCentres) {
    for (const gy of gridCentres) {
      dots += `M${x(gx).toFixed(1)} ${y(gy).toFixed(1)}h2v2h-2z`;
    }
  }
  g.append("path").attr("d", dots).attr("fill", "#1a1a1a").attr("opacity", 0.32);

  // minor ticks every 4 m, major with labels every 20 m
  const minor = d3.range(0, 241, 4);
  const xMinor = g.append("g").attr("transform", `translate(0,${bottom})`);
  xMinor.call(d3.axisBottom(x).tickValues(minor).tickSize(5).tickFormat(""));
  xMinor.selectAll("text").remove();
  const xMajor = g.append("g").attr("transform", `translate(0,${bottom})`);
  xMajor.call(d3.axisBottom(x).tickValues(xyTicks).tickSize(10).tickPadding(7));

  const yMinor = g.append("g").attr("transform", `translate(${left},0)`);
  yMinor.call(d3.axisLeft(y).tickValues(minor).tickSize(5).tickFormat(""));
  yMinor.selectAll("text").remove();
  const yMajor = g.append("g").attr("transform", `translate(${left},0)`);
  yMajor.call(d3.axisLeft(y).tickValues(xyTicks).tickSize(13).tickPadding(7));

  g.selectAll(".domain, .tick line").attr("stroke", "#444").attr("stroke-width", 1.4);
  g.selectAll(".tick text")
    .attr("font-family", serif)
    .attr("font-size", 23)
    .attr("fill", "#3c3c3c");

  // top edge of the map
  g.append("line")
    .attr("x1", left).attr("x2", right)
    .attr("y1", top).attr("y2", top)
    .attr("stroke", "#333").attr("stroke-width", 1.4);

  g.append("text")
    .attr("x", left - 33).attr("y", top - 30)
    .attr("text-anchor", "middle")
    .attr("font-family", serif).attr("font-size", 20).attr("fill", "#333")
    .text("m");
  g.append("text")
    .attr("x", right + 42).attr("y", bottom + 31)
    .attr("text-anchor", "middle")
    .attr("font-family", serif).attr("font-size", 21).attr("fill", "#333")
    .text("m");

  g.append("text")
    .attr("x", right - 7).attr("y", top + 43)
    .attr("text-anchor", "end")
    .attr("font-family", serif).attr("font-size", 48)
    .attr("fill", "#0a0a30").attr("fill-opacity", 0.85)
    .text(name);
}

function drawLegend(block) {
  const g = svg.append("g");

  g.append("text")
    .attr("x", block.titleX).attr("y", block.titleY)
    .attr("font-family", serif).attr("font-size", block.titleSize)
    .attr("letter-spacing", 1.2)
    .attr("fill", "#222")
    .text(block.title);

  const row = d3.scaleLinear().domain([0, 1]).range([block.legendY, block.legendY + block.step]);

  g.selectAll("rect")
    .data(block.labels)
    .join("rect")
    .attr("x", block.swatchX + 1)
    .attr("y", (d, i) => row(i) + 1)
    .attr("width", 85)
    .attr("height", 31)
    .attr("fill", (d, i) => classColors[i])
    .attr("stroke", (d, i) => d3.color(classColors[i]).darker(1.4))
    .attr("stroke-width", 2);

  g.selectAll("text.label")
    .data(block.labels)
    .join("text")
    .attr("class", "label")
    .attr("x", block.labelX)
    .attr("y", (d, i) => row(i) + 28)
    .attr("font-family", serif)
    .attr("font-size", 33)
    .attr("letter-spacing", 1)
    .attr("fill", "#333")
    .text((d) => d);
}

function drawNorth(cy) {
  const cx = 2354;
  const g = svg.append("g");
  g.append("ellipse")
    .attr("cx", cx).attr("cy", cy)
    .attr("rx", 28).attr("ry", 27)
    .attr("fill", "#bdbdbd");
  g.append("path")
    .attr("d", `M${cx} ${cy - 41}L${cx + 17} ${cy + 35}L${cx} ${cy + 17}L${cx - 15} ${cy + 35}Z`)
    .attr("fill", "#000");
  g.append("rect")
    .attr("x", cx - 3).attr("y", cy + 1)
    .attr("width", 6).attr("height", 5)
    .attr("fill", "#bbb");
}

blocks.forEach((block) => {
  block.panels.forEach((panel, i) => drawPanel(panel, panelNames[i]));
  drawLegend(block);
  drawNorth(block.northY);

  svg.append("text")
    .attr("x", 1122).attr("y", block.tagY)
    .attr("text-anchor", "middle")
    .attr("font-family", "'Open Sans', sans-serif")
    .attr("font-weight", 300)
    .attr("font-size", 68)
    .attr("fill", "#333")
    .text(block.tag);
});
</script>
</body>
</html>
